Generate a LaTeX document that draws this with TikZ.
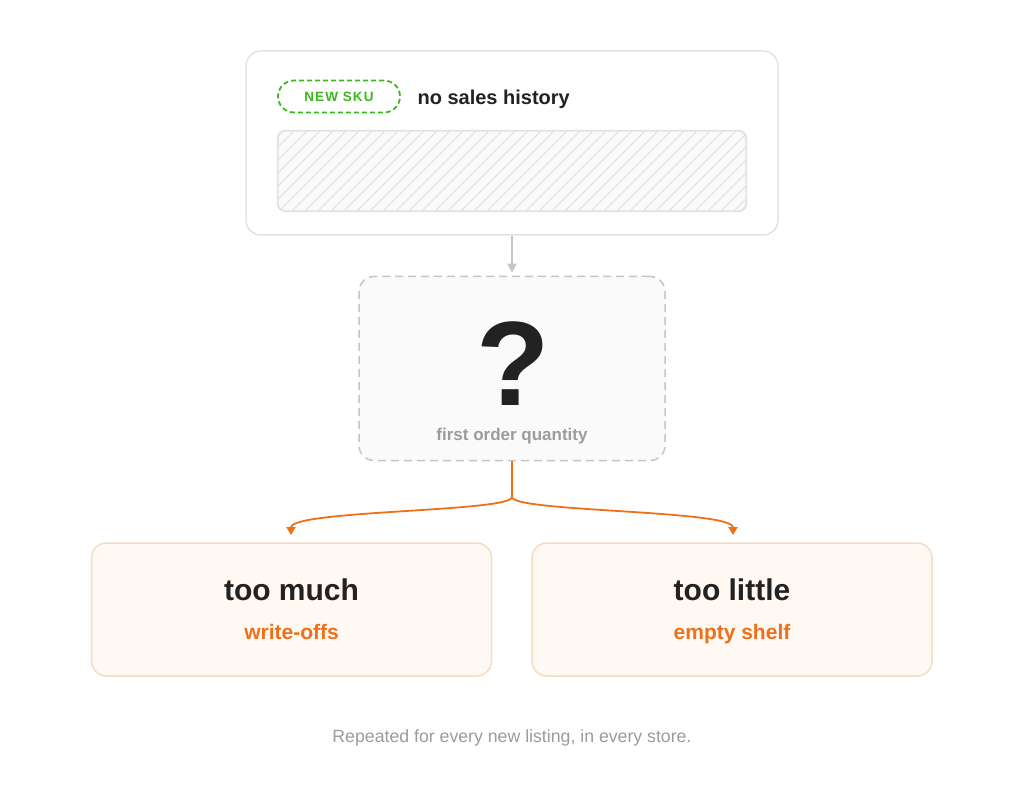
\documentclass[tikz,border=0pt]{standalone}
\usepackage{fontspec}
\setmainfont{Liberation Sans}
\usetikzlibrary{positioning,calc,arrows.meta}
\definecolor{ink}{HTML}{222222}
\definecolor{rim}{HTML}{E3E3E3}
\definecolor{skugreen}{HTML}{3DB81F}
\definecolor{hatch}{HTML}{DEDEDE}
\definecolor{stripfill}{HTML}{FAFAFA}
\definecolor{qgray}{HTML}{C6C6C6}
\definecolor{qfill}{HTML}{FAFAFA}
\definecolor{mute}{HTML}{9C9C9C}
\definecolor{fire}{HTML}{F07018}
\definecolor{peach}{HTML}{FFF8F3}
\definecolor{peachrim}{HTML}{F5DCC4}
\tikzset{
  panel/.style={draw=rim, line width=1.5pt, rounded corners=15pt, fill=white,
    minimum width=532pt, minimum height=184pt},
  guessbox/.style={draw=qgray, line width=1.5pt, dash pattern=on 8pt off 5pt,
    rounded corners=15pt, fill=qfill, minimum width=306pt, minimum height=184pt},
  outcome/.style={draw=peachrim, line width=1.5pt, rounded corners=15pt, fill=peach,
    minimum width=400pt, minimum height=133pt},
  pill/.style={draw=skugreen, line width=1.8pt, dash pattern=on 5pt off 3pt,
    rounded corners=16pt, minimum width=122pt, minimum height=32pt, text=skugreen,
    font=\fontsize{13.5}{15}\selectfont\bfseries\addfontfeatures{LetterSpace=8}},
  flow/.style={draw=qgray, line width=1.5pt, -{Triangle[width=9pt,length=9pt]}},
  branch/.style={draw=fire, line width=1.8pt},
  title/.style={anchor=base, text=ink, font=\fontsize{30}{36}\selectfont\bfseries},
  note/.style={anchor=base, text=fire, font=\fontsize{21}{25}\selectfont\bfseries},
}

\begin{document}
\begin{tikzpicture}[x=1pt, y=-1pt]
  \useasboundingbox[fill=white] (0,0) rectangle (1024,799);

  % top panel
  \node[panel] (history) at (512,143) {};
  \node[pill] (sku) at (339,96.5) {NEW SKU};
  \node[anchor=base west, text=ink, font=\fontsize{20}{24}\selectfont\bfseries]
    (nohist) at (414,105) {no sales history};
  \node[draw=rim, line width=1.2pt, rounded corners=8pt, fill=stripfill,
    minimum width=468pt, minimum height=80pt] (strip) at (512,171) {};
  \begin{scope}
    \clip[rounded corners=8pt] (strip.north west) rectangle (strip.south east);
    \foreach \i in {-90,-77,...,480}
      \draw[hatch, line width=1pt] ($(strip.south west)+(\i,0)$) -- ++(80,-80);
  \end{scope}
  \draw[rim, line width=1.2pt, rounded corners=8pt] (strip.north west) rectangle (strip.south east);

  % the unknown
  \node[guessbox] (guess) at (512,368.5) {};
  \node[anchor=base, inner sep=0pt, text depth=0pt, text=ink,
    font=\fontsize{120}{120}\selectfont\bfseries] (qmark) at (513,405) {?};
  \node[anchor=base, text=mute, font=\fontsize{17}{20}\selectfont\bfseries]
    (qlabel) at (512,440) {first order quantity};
  \draw[flow, shorten >=3pt] (history.south) -- (guess.north);

  % outcomes
  \node[outcome] (much) at (291.5,609.5) {};
  \node[outcome] (little) at (732,609.5) {};
  \node[title] (muchlabel) at (291.5,600) {too much};
  \node[note] (muchnote) at ($(muchlabel.base)+(0,39)$) {write-offs};
  \node[title] (littlelabel) at (732,600) {too little};
  \node[note] (littlenote) at ($(littlelabel.base)+(0,39)$) {empty shelf};

  \coordinate (fork) at (512,497);
  \coordinate (muchtip) at (291,535);
  \coordinate (littletip) at (733,535);
  \draw[branch] (guess.south) -- (fork);
  \draw[branch, -{Triangle[width=9pt,length=8pt]}]
    (fork) .. controls +(0,15) and +(0,-25) .. (muchtip);
  \draw[branch, -{Triangle[width=9pt,length=8pt]}]
    (fork) .. controls +(0,15) and +(0,-25) .. (littletip);

  \node[anchor=base, text=mute, font=\fontsize{17.7}{21}\selectfont]
    (footer) at (512,742) {Repeated for every new listing, in every store.};
\end{tikzpicture}
\end{document}
